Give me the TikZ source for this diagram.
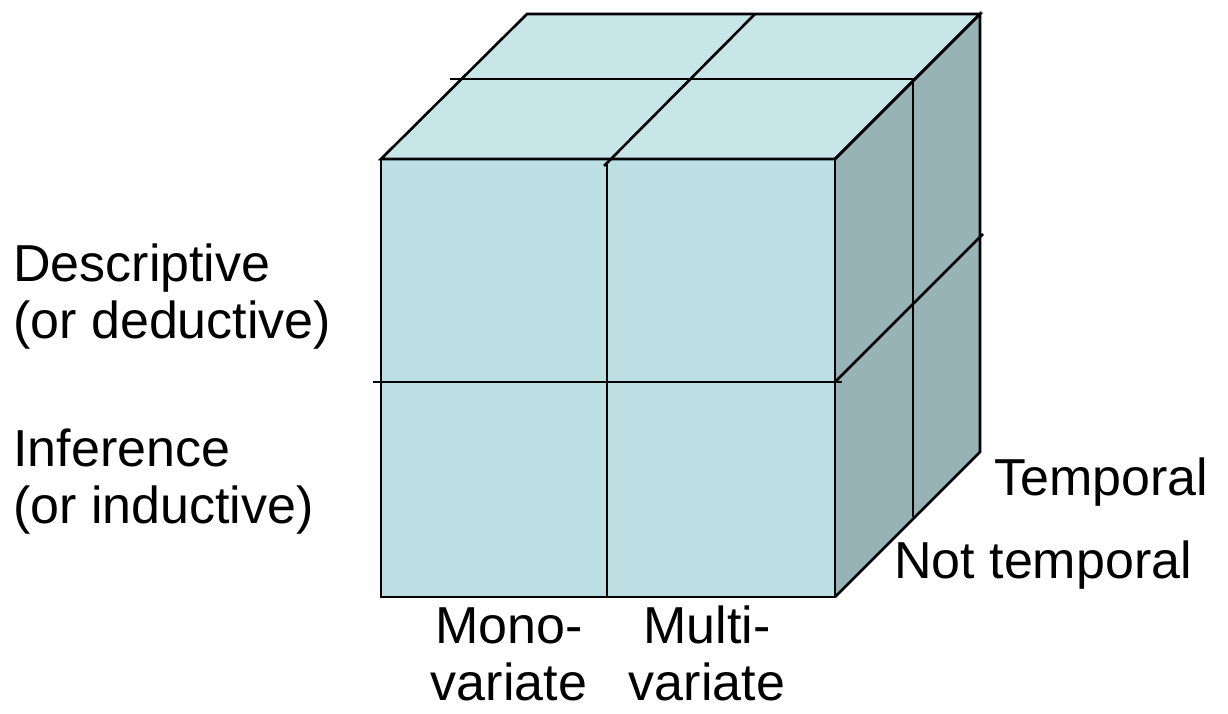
\documentclass[tikz,border=0pt]{standalone}
\usepackage{fontspec}
\setmainfont{Liberation Sans}
\definecolor{frontcol}{HTML}{BBDFE3}
\definecolor{topcol}{HTML}{C8E5E8}
\definecolor{sidecol}{HTML}{97B3B6}
\begin{document}
\begin{tikzpicture}[x=1pt, y=-1pt, line width=2.6pt, line join=miter]
      \tikzset{label text/.style={font=\fontsize{52}{57}\selectfont, inner sep=0pt, align=left}}
      \useasboundingbox (0,0) rectangle (1228,714);

      % Corners of the cube
      \coordinate (fa) at (381,159);
      \coordinate (fb) at (835,159);
      \coordinate (fc) at (835,597);
      \coordinate (fd) at (381,597);
      \coordinate (ba) at (527,14);
      \coordinate (bb) at (980,14);
      \coordinate (bc) at (980,452);

      % Faces
      \fill[topcol] (fa) -- (ba) -- (bb) -- (fb) -- cycle;
      \fill[sidecol] (fb) -- (bb) -- (bc) -- (fc) -- cycle;
      \fill[frontcol] (fa) rectangle (fc);

      % Outline
      \draw (fa) -- (ba) -- (bb) -- (fb) -- cycle;
      \draw (fb) -- (bb) -- (bc) -- (fc);
      \draw (fa) rectangle (fc);

      % Dividing lines
      \draw (607,162) -- (607,597);
      \draw (604,166) -- (755,14);
      \draw (373,382) -- (842,382);
      \draw (450,79) -- (916,79);
      \draw (913,79) -- (913,517);
      \draw (835,382) -- (983,234);

      % Labels on the left
      \node[label text, anchor=base west] (desc) at (12,338) {Descriptive\\(or deductive)};
      \node[label text, anchor=base west] (infer) at (12,523) {Inference\\(or inductive)};

      % Labels on the right
      \node[label text, anchor=base west] (temp) at (993,495) {Temporal};
      \node[label text, anchor=base west] (nottemp) at (893,578) {Not temporal};

      % Labels below
      \node[label text, align=center, anchor=base] (mono) at (509,700) {Mono-\\variate};
      \node[label text, align=center, anchor=base] (multi) at (707,700) {Multi-\\variate};

    \end{tikzpicture}
\end{document}
